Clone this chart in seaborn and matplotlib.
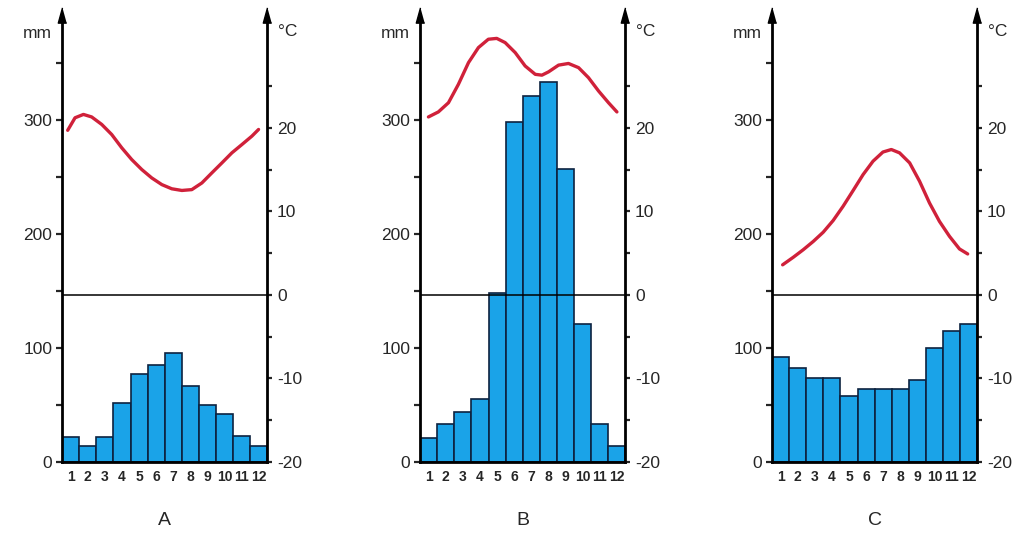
import matplotlib
matplotlib.use("Agg")
import matplotlib.pyplot as plt
import seaborn as sns

# months on the x axis
months = list(range(1, 13))
month_labels = [str(m) for m in months]
panel_names = ["A", "B", "C"]

# precipitation (mm) per month
precip_a = [22, 14, 22, 52, 77, 85, 96, 67, 50, 42, 23, 14]
precip_b = [21, 33, 44, 55, 148, 298, 321, 333, 257, 121, 33, 14]
precip_c = [92, 82, 74, 74, 58, 64, 64, 64, 72, 100, 115, 121]

# temperature curve (degC)
temp_x_a = [0.83, 1.26, 1.75, 2.23, 2.82, 3.40, 3.99, 4.57, 5.16, 5.74, 6.33,
            6.91, 7.50, 8.08, 8.67, 9.25, 9.84, 10.42, 11.01, 11.59, 11.98]
temp_a = [19.7, 21.2, 21.6, 21.3, 20.4, 19.2, 17.6, 16.2, 15.0, 14.0, 13.2,
          12.7, 12.5, 12.6, 13.4, 14.6, 15.8, 17.0, 18.0, 19.0, 19.8]

temp_x_b = [0.99, 1.57, 2.16, 2.74, 3.33, 3.91, 4.49, 4.98, 5.47, 6.06, 6.64,
            7.23, 7.62, 8.01, 8.59, 9.17, 9.76, 10.34, 10.93, 11.51, 12.0]
temp_b = [21.3, 21.9, 23.0, 25.2, 27.8, 29.6, 30.6, 30.7, 30.2, 29.0, 27.4,
          26.4, 26.3, 26.7, 27.5, 27.7, 27.2, 26.0, 24.4, 23.0, 21.9]

temp_x_c = [1.12, 1.74, 2.32, 2.91, 3.49, 4.07, 4.65, 5.24, 5.82, 6.40, 6.98,
            7.47, 7.95, 8.54, 9.12, 9.70, 10.28, 10.87, 11.45, 11.93]
temp_c = [3.6, 4.5, 5.4, 6.4, 7.5, 8.9, 10.6, 12.5, 14.4, 16.0, 17.1,
          17.4, 17.0, 15.8, 13.6, 11.0, 8.8, 7.0, 5.5, 4.9]

mm_ticks = [0, 50, 100, 150, 200, 250, 300, 350]
mm_labels = ["0", "", "100", "", "200", "", "300", ""]
t_ticks = [-20, -15, -10, -5, 0, 5, 10, 15, 20, 25]
t_labels = ["-20", "", "-10", "", "0", "", "10", "", "20", ""]

BAR = "#1aa3e8"
EDGE = "#0d2240"
RED = "#d0213a"

sns.set_style("white")
plt.rcParams["font.family"] = ["Liberation Sans", "DejaVu Sans"]

fig = plt.figure(figsize=(10.22, 5.38), dpi=100)

lefts = [0.0607, 0.411, 0.7554]
panels = [(precip_a, temp_x_a, temp_a),
          (precip_b, temp_x_b, temp_b),
          (precip_c, temp_x_c, temp_c)]

arrow = [(0, 1), (-0.55, -1), (0.55, -1)]

for left, name, (precip, tx, temp) in zip(lefts, panel_names, panels):
    ax = fig.add_axes([left, 0.1413, 0.201, 0.8308])
    sns.barplot(x=months, y=precip, ax=ax, native_scale=True, width=1,
                color=BAR, saturation=1, edgecolor=EDGE, linewidth=1.2)
    ax.set_xlim(0.5, 12.5)
    ax.set_ylim(0, 392)
    ax.set_xticks(months)
    ax.set_xticklabels(month_labels, fontsize=10, fontweight="bold")
    ax.set_yticks(mm_ticks)
    ax.set_yticklabels(mm_labels, fontsize=12.5)
    ax.tick_params(axis="x", length=0, pad=6)
    ax.tick_params(axis="y", direction="out", length=4.5, width=1.6, pad=2.5)
    for s in ["top", "right"]:
        ax.spines[s].set_visible(False)
    for s in ["left", "bottom"]:
        ax.spines[s].set_linewidth(2)
        ax.spines[s].set_color("black")

    ax2 = ax.twinx()
    ax2.axhline(0, color="black", lw=1.1)
    sns.lineplot(x=tx, y=temp, ax=ax2, color=RED, lw=2.4, sort=False,
                 estimator=None)
    for line in ax2.lines:
        line.set_solid_capstyle("round")
        line.set_solid_joinstyle("round")
    ax2.set_ylim(-20, 33.5)
    ax2.set_xlim(0.5, 12.5)
    ax2.set_yticks(t_ticks)
    ax2.set_yticklabels(t_labels, fontsize=12.5)
    ax2.tick_params(axis="y", direction="out", length=3.8, width=1.6, pad=3)
    for s in ["top", "left", "bottom"]:
        ax2.spines[s].set_visible(False)
    ax2.spines["right"].set_linewidth(2)
    ax2.spines["right"].set_color("black")
    ax.set_ylabel("")
    ax2.set_ylabel("")

    # arrow heads on both vertical axes
    for xa in [0, 1]:
        ax2.plot([xa], [1], marker=arrow, ms=11, color="black",
                 transform=ax2.transAxes, clip_on=False, zorder=5)

    ax.text(-0.049, 0.9485, "mm", transform=ax.transAxes, ha="right",
            va="baseline", fontsize=12.5)
    ax2.text(1.049, 0.953, "°C", transform=ax2.transAxes, ha="left",
             va="baseline", fontsize=12.5)

    fig.text(left + 0.1005, 0.032, name, ha="center", va="center",
             fontsize=14)

fig.savefig("out.png", dpi=100)
